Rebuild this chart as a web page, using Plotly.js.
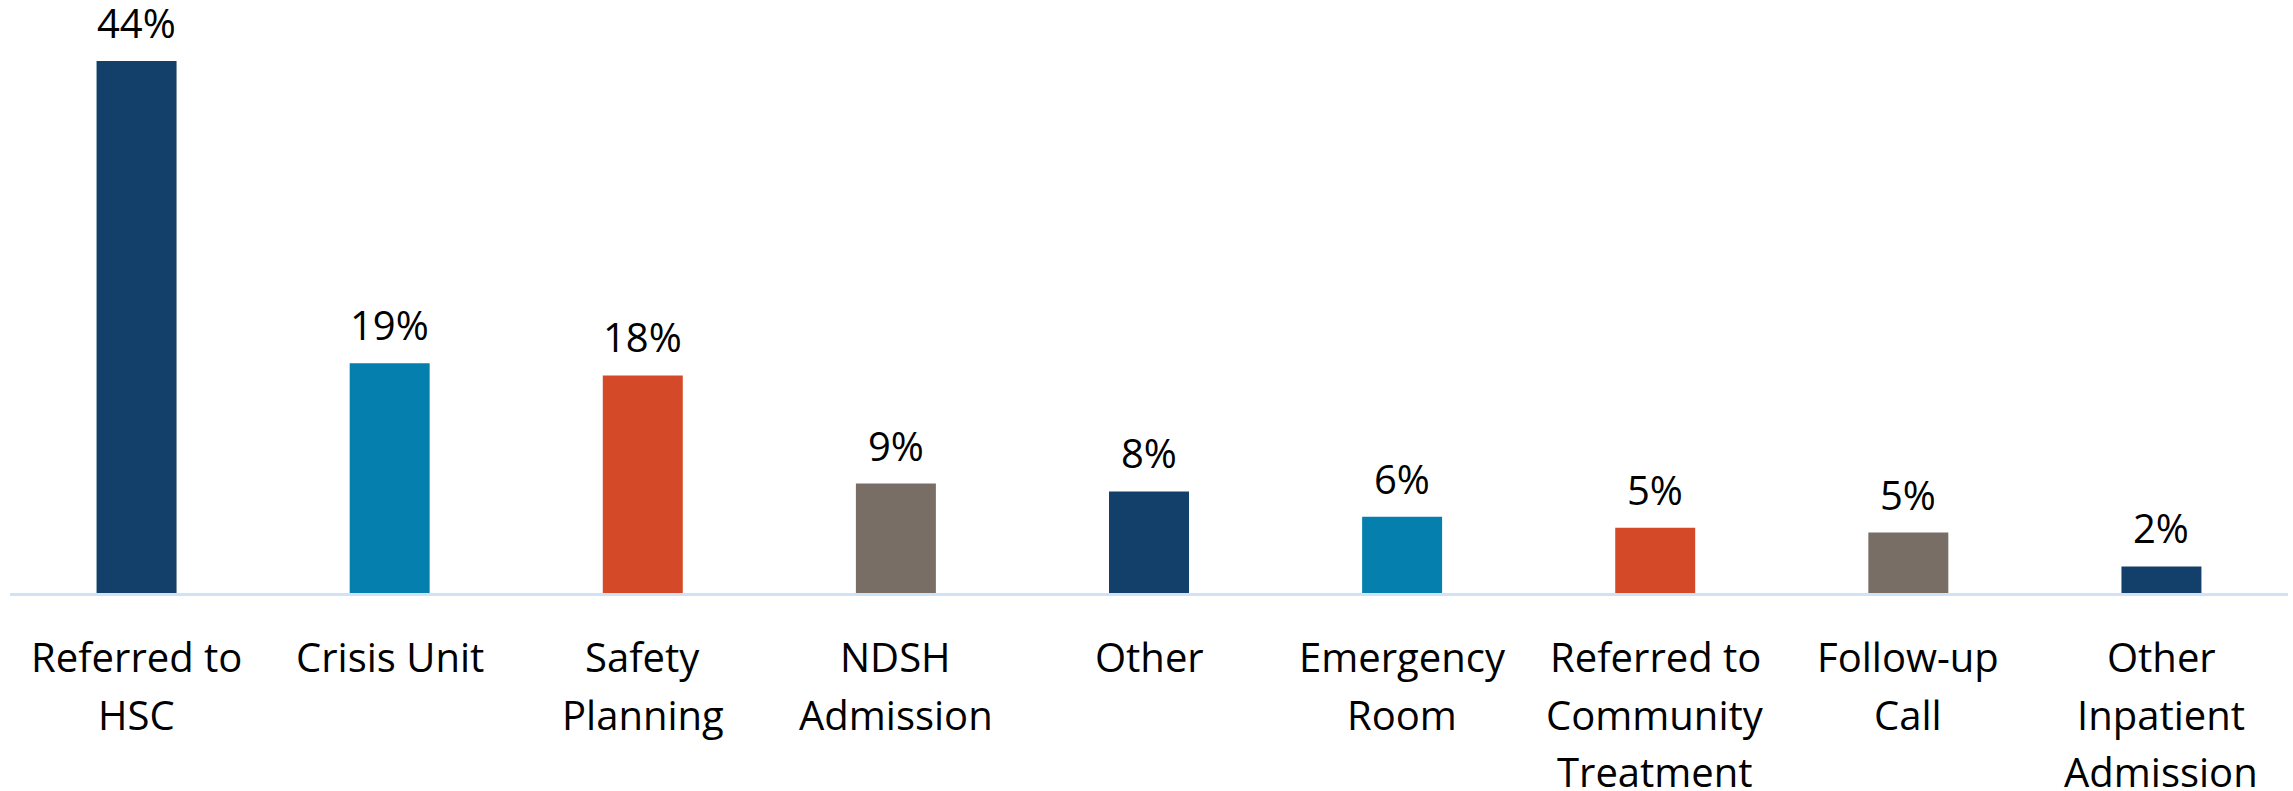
<!DOCTYPE html>
<html>
<head>
<meta charset="utf-8">
<script src="https://cdn.plot.ly/plotly-3.0.1.min.js"></script>
<style>
  html, body { margin: 0; padding: 0; background: #ffffff; }
  #chart { width: 2293px; height: 791px; }
</style>
</head>
<body>
<div id="chart"></div>
<script>
// Data
const categories = [
  "Referred to<br>HSC",
  "Crisis Unit",
  "Safety<br>Planning",
  "NDSH<br>Admission",
  "Other",
  "Emergency<br>Room",
  "Referred to<br>Community<br>Treatment",
  "Follow-up<br>Call",
  "Other<br>Inpatient<br>Admission"
];
const values = [44, 19, 18, 9.05, 8.4, 6.3, 5.4, 5.0, 2.2];
const valueLabels = ["44%", "19%", "18%", "9%", "8%", "6%", "5%", "5%", "2%"];
const barColors = ["#12406A", "#0580AE", "#D44A28", "#796E65", "#12406A", "#0580AE", "#D44A28", "#796E65", "#12406A"];

const FONT = "'Open Sans', 'Noto Sans', sans-serif";
const FONT_SIZE = 40;
const LINE_STEP = 57.5;     // line spacing of category labels (px)
const LABEL_TOP = -34;      // offset of first category line below axis (px)
const VALUE_SHIFT = 9;      // gap above bars for value labels (px)

const trace = {
  type: "bar",
  x: categories,
  y: values,
  marker: { color: barColors, line: { width: 0 } },
  hoverinfo: "skip"
};

const annotations = [];
// value labels above bars
categories.forEach((c, i) => {
  annotations.push({
    x: c, y: values[i], xref: "x", yref: "y",
    text: valueLabels[i], showarrow: false,
    xanchor: "center", yanchor: "bottom", yshift: VALUE_SHIFT,
    font: { family: FONT, size: FONT_SIZE, color: "#000000" }
  });
});
// category labels, one annotation per line for wider line spacing
categories.forEach((c) => {
  c.split("<br>").forEach((line, j) => {
    annotations.push({
      x: c, y: 0, xref: "x", yref: "y",
      text: line, showarrow: false,
      xanchor: "center", yanchor: "top", yshift: LABEL_TOP - j * LINE_STEP,
      font: { family: FONT, size: FONT_SIZE, color: "#000000" }
    });
  });
});

const layout = {
  width: 2293,
  height: 791,
  margin: { l: 10, r: 5, t: 0, b: 198 },
  paper_bgcolor: "#ffffff",
  plot_bgcolor: "#ffffff",
  showlegend: false,
  bargap: 0.684,
  font: { family: FONT, size: FONT_SIZE, color: "#000000" },
  xaxis: {
    type: "category",
    showline: true,
    linecolor: "#CFE3F5",
    linewidth: 3,
    showgrid: false,
    zeroline: false,
    ticks: "",
    showticklabels: false
  },
  yaxis: {
    range: [0, 49.05],
    visible: false,
    showgrid: false,
    zeroline: false,
    fixedrange: true
  },
  annotations: annotations
};

Plotly.newPlot("chart", [trace], layout, { displayModeBar: false, staticPlot: true });
</script>
</body>
</html>
